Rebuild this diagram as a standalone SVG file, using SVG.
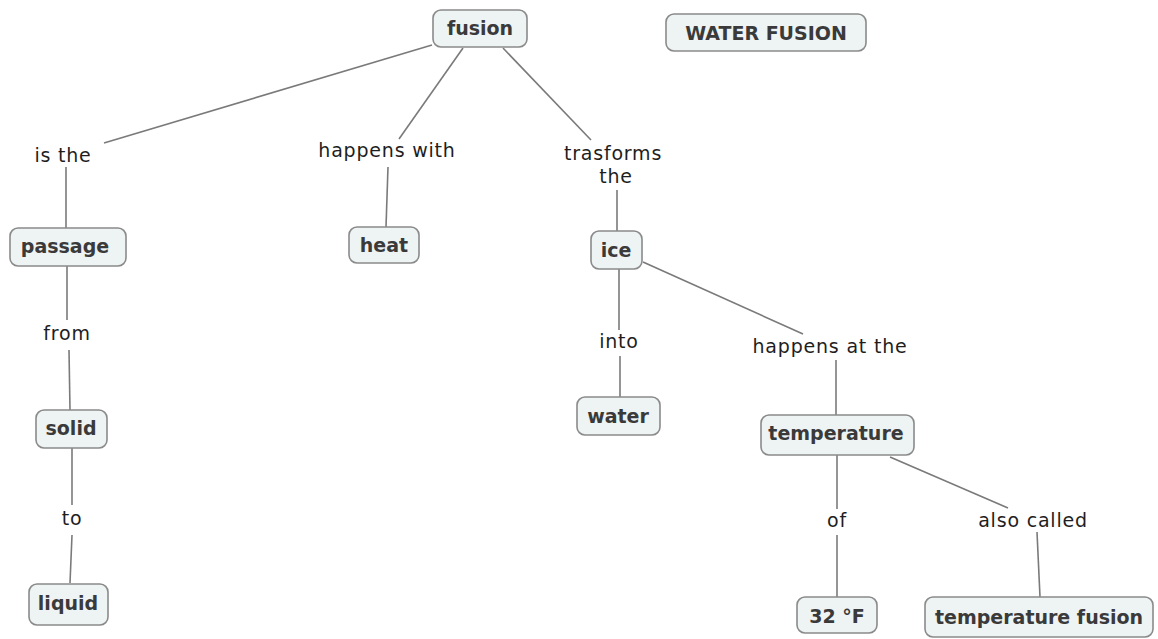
<svg xmlns="http://www.w3.org/2000/svg" width="1158" height="639" viewBox="0 0 1158 639">
<style>
.bg{fill:#ffffff}
.box{fill:#eef3f3;stroke:#8a8a8a;stroke-width:1.6}
.nt{font-family:"DejaVu Sans",Verdana,sans-serif;font-size:19px;font-weight:bold;fill:#3a3a3a;text-anchor:middle}
.lt{font-family:"DejaVu Sans",Verdana,sans-serif;font-size:19px;fill:#1e1e1e;text-anchor:middle;letter-spacing:0.8px}
.c line{stroke:#7a7a7a;stroke-width:1.6;fill:none}
</style>
<rect class="bg" x="0" y="0" width="1158" height="639"/>
<g class="c" id="connectors">
<line x1="432" y1="45" x2="104" y2="143"/>
<line x1="66" y1="167" x2="66" y2="228"/>
<line x1="463" y1="48" x2="399" y2="139"/>
<line x1="388" y1="167" x2="386" y2="227"/>
<line x1="503" y1="48" x2="591" y2="140"/>
<line x1="617" y1="190" x2="617" y2="231"/>
<line x1="67" y1="266" x2="67" y2="320"/>
<line x1="69" y1="350" x2="70" y2="410"/>
<line x1="72" y1="448" x2="72" y2="505"/>
<line x1="72" y1="535" x2="70" y2="583"/>
<line x1="619" y1="268" x2="619" y2="330"/>
<line x1="620" y1="356" x2="620" y2="397"/>
<line x1="643" y1="262" x2="803" y2="334"/>
<line x1="836" y1="360" x2="836" y2="415"/>
<line x1="837" y1="455" x2="837" y2="509"/>
<line x1="837" y1="535" x2="837" y2="597"/>
<line x1="890" y1="457" x2="1008" y2="508"/>
<line x1="1037" y1="532" x2="1040" y2="597"/>
</g>
<g id="labels">
<text class="lt" x="63" y="162">is the</text>
<text class="lt" x="387" y="157">happens with</text>
<text class="lt" x="613" y="160">trasforms</text>
<text class="lt" x="616" y="183">the</text>
<text class="lt" x="67" y="340">from</text>
<text class="lt" x="72" y="525">to</text>
<text class="lt" x="619" y="348">into</text>
<text class="lt" x="830" y="353">happens at the</text>
<text class="lt" x="837" y="527">of</text>
<text class="lt" x="1033" y="527">also called</text>
</g>
<g id="n-fusion"><rect class="box" x="433" y="10" width="94" height="37" rx="8"/><text class="nt" x="480" y="35">fusion</text></g>
<g id="n-water-fusion"><rect class="box" x="666" y="14" width="200" height="37" rx="8"/><text class="nt" x="766" y="40">WATER FUSION</text></g>
<g id="n-passage"><rect class="box" x="10" y="228" width="116" height="38" rx="8"/><text class="nt" x="65" y="253">passage</text></g>
<g id="n-heat"><rect class="box" x="349" y="227" width="70" height="36" rx="8"/><text class="nt" x="384" y="252">heat</text></g>
<g id="n-ice"><rect class="box" x="591" y="231" width="51" height="38" rx="8"/><text class="nt" x="616" y="257">ice</text></g>
<g id="n-solid"><rect class="box" x="36" y="410" width="71" height="38" rx="8"/><text class="nt" x="71" y="435">solid</text></g>
<g id="n-liquid"><rect class="box" x="29" y="584" width="79" height="41" rx="8"/><text class="nt" x="68" y="610">liquid</text></g>
<g id="n-water"><rect class="box" x="577" y="397" width="83" height="38" rx="8"/><text class="nt" x="618" y="423">water</text></g>
<g id="n-temperature"><rect class="box" x="761" y="415" width="153" height="40" rx="8"/><text class="nt" x="836" y="440">temperature</text></g>
<g id="n-32f"><rect class="box" x="797" y="597" width="80" height="36" rx="8"/><text class="nt" x="837" y="623">32 °F</text></g>
<g id="n-temperature-fusion"><rect class="box" x="925" y="597" width="228" height="40" rx="8"/><text class="nt" x="1039" y="624">temperature fusion</text></g>
</svg>
